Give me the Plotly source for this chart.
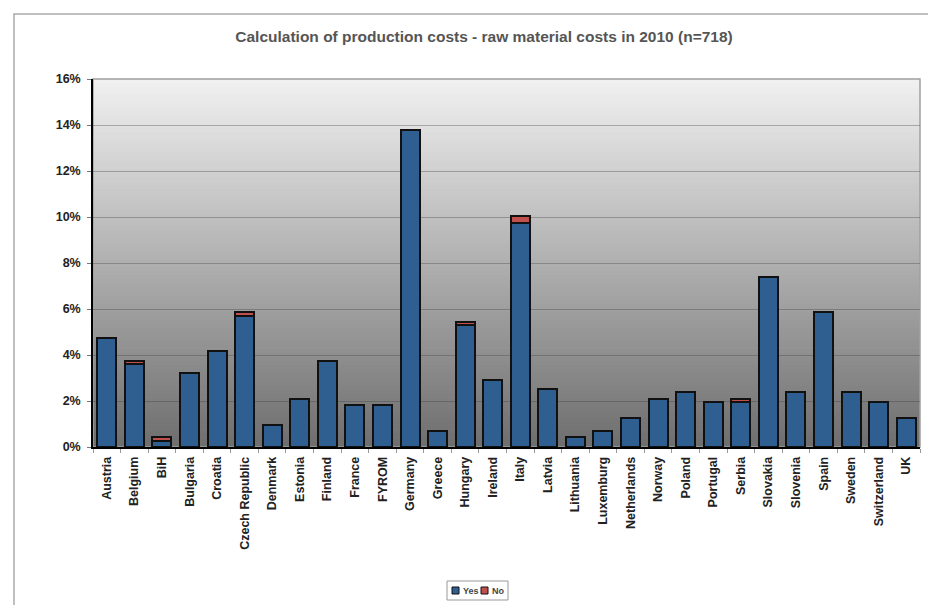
import plotly.graph_objects as go

countries = ["Austria", "Belgium", "BiH", "Bulgaria", "Croatia", "Czech Republic", "Denmark",
             "Estonia", "Finland", "France", "FYROM", "Germany", "Greece", "Hungary", "Ireland",
             "Italy", "Latvia", "Lithuania", "Luxemburg", "Netherlands", "Norway", "Poland",
             "Portugal", "Serbia", "Slovakia", "Slovenia", "Spain", "Sweden", "Switzerland", "UK"]
yes_pct = [4.74, 3.62, 0.28, 3.20, 4.18, 5.71, 0.97, 2.09, 3.76, 1.81, 1.81, 13.79, 0.70, 5.29, 2.92,
           9.75, 2.51, 0.42, 0.70, 1.25, 2.09, 2.37, 1.95, 1.95, 7.38, 2.37, 5.85, 2.37, 1.95, 1.25]
no_pct = [0, 0.14, 0.14, 0, 0, 0.14, 0, 0, 0, 0, 0, 0, 0, 0.14, 0,
          0.28, 0, 0, 0, 0, 0, 0, 0, 0.14, 0, 0, 0, 0, 0, 0]
y_ticks = [0, 2, 4, 6, 8, 10, 12, 14, 16]
y_labels = ["0%", "2%", "4%", "6%", "8%", "10%", "12%", "14%", "16%"]
series_names = ["Yes", "No"]
series_colors = ["#2F5E91", "#C0504D"]

OFF = 8  # page body margin
W, H = 936, 605
# target screen positions of plot area
sx0, sx1, sy0, sy1 = 93, 920, 79, 447
L, T = sx0 - OFF, sy0 - OFF
R = W - (sx1 - OFF)
B = H - (sy1 - OFF)
pw, ph = W - L - R, H - T - B


def px(x):
    return (x - OFF - L) / pw


def py(y):
    return 1 - (y - OFF - T) / ph


def nz(vals):
    return [v if v else None for v in vals]


fig = go.Figure()
fig.add_trace(go.Bar(x=countries, y=nz(yes_pct), name=series_names[0],
                     marker=dict(color=series_colors[0], line=dict(color="#111111", width=2))))
fig.add_trace(go.Bar(x=countries, y=nz(no_pct), name=series_names[1],
                     marker=dict(color=series_colors[1], line=dict(color="#111111", width=2))))

shapes = []
n = 90
top, bot = 241, 110
for i in range(n):
    f = (i + 0.5) / n
    v = int(round(bot + (top - bot) * f))
    shapes.append(dict(type="rect", xref="paper", yref="paper", x0=0, x1=1,
                       y0=i / n, y1=(i + 1) / n + 0.002, layer="below",
                       line=dict(width=0), fillcolor=f"rgb({v},{v},{v})"))
# plot frame (gray)
shapes.append(dict(type="rect", xref="paper", yref="paper", x0=0, x1=1, y0=0, y1=1,
                   layer="below", line=dict(color="#a0a0a0", width=1.5)))
# outer chart border
shapes.append(dict(type="rect", xref="paper", yref="paper",
                   x0=px(14), x1=px(1000), y0=py(700), y1=py(14),
                   line=dict(color="#aaaaaa", width=1.5)))
# legend box
shapes.append(dict(type="rect", xref="paper", yref="paper",
                   x0=px(447), x1=px(508), y0=py(600), y1=py(581),
                   line=dict(color="#999999", width=1), fillcolor="white"))
annotations = []
leg_items = [(452, 459, 461), (481, 488, 490)]
for (sq0, sq1, tx), name, col in zip(leg_items, series_names, series_colors):
    shapes.append(dict(type="rect", xref="paper", yref="paper",
                       x0=px(sq0), x1=px(sq1), y0=py(594), y1=py(587),
                       line=dict(color="#111111", width=1), fillcolor=col))
    annotations.append(dict(text=f"<b>{name}</b>", xref="paper", yref="paper",
                            x=px(tx), y=py(590.5), xanchor="left", yanchor="middle",
                            showarrow=False, font=dict(size=9, color="#444444")))

fig.update_layout(
    width=W, height=H,
    margin=dict(l=L, r=R, t=T, b=B),
    paper_bgcolor="white", plot_bgcolor="#bbbbbb",
    barmode="stack", bargap=0.31,
    font=dict(family="Liberation Sans, Arial, sans-serif", color="#222222"),
    title=dict(text="<b>Calculation of production costs - raw material costs in 2010 (n=718)</b>",
               x=px(484), xref="paper", xanchor="center",
               y=1 - (37 - OFF) / H, yref="container", yanchor="middle",
               font=dict(size=15.5, color="#555555")),
    shapes=shapes,
    annotations=annotations,
    showlegend=False,
)
fig.update_xaxes(type="category", tickangle=-90, tickfont=dict(size=12.5, color="#222222"),
                 showline=True, linecolor="black", linewidth=1.5,
                 ticks="outside", tickson="boundaries", ticklen=4, tickcolor="#999999",
                 showgrid=False, tickprefix="<b>", ticksuffix="</b>", ticklabelstandoff=3)
fig.update_yaxes(range=[0, 16], tickvals=y_ticks, ticktext=["<b>" + s + "</b>" for s in y_labels],
                 tickfont=dict(size=12.5, color="#222222"),
                 showline=True, linecolor="black", linewidth=1.5,
                 ticks="outside", ticklen=4, tickcolor="#777777", ticklabelstandoff=4,
                 showgrid=True, gridcolor="rgba(60,60,60,0.35)", gridwidth=1, zeroline=False)

fig.write_html("out.html")
